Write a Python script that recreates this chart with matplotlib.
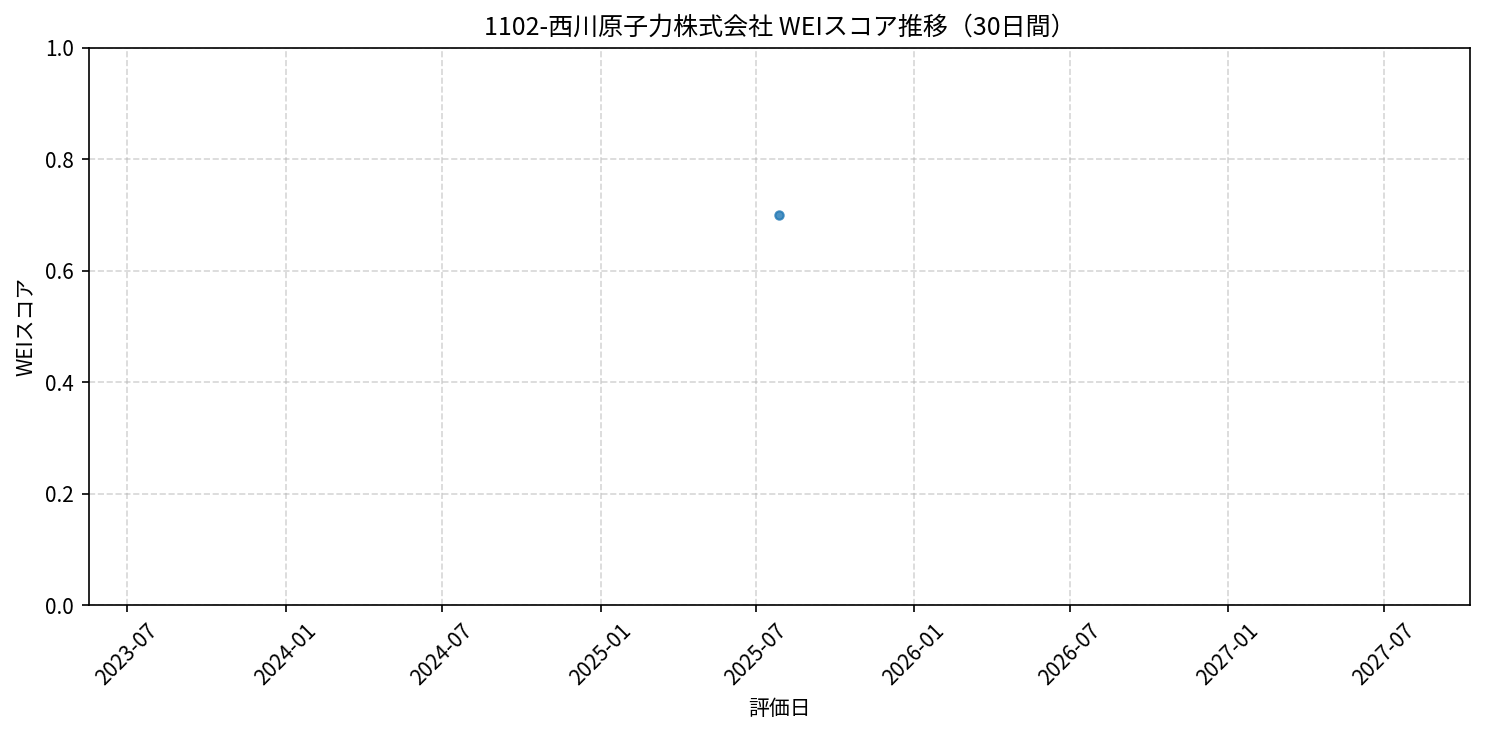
import matplotlib
matplotlib.use("Agg")
import matplotlib.pyplot as plt
import matplotlib.dates as mdates
import pandas as pd

plt.rcParams['font.family'] = ['Noto Sans CJK JP', 'DejaVu Sans']

# data
dates = pd.to_datetime(["2025-07-28"])
scores = [0.70]
title = "1102-西川原子力株式会社 WEIスコア推移（30日間）"

fig, ax = plt.subplots(figsize=(10, 5), dpi=150)
ax.plot(dates, scores, marker="o", markersize=4, linestyle="-", alpha=0.8)
ax.set_title(title)
ax.set_xlabel("評価日")
ax.set_ylabel("WEIスコア")
ax.set_ylim(0, 1)
ax.grid(True, linestyle="--", alpha=0.5)
ax.xaxis.set_major_formatter(mdates.DateFormatter("%Y-%m"))
plt.xticks(rotation=45)
plt.tight_layout()
plt.savefig("out.png", dpi=150, bbox_inches="tight")
